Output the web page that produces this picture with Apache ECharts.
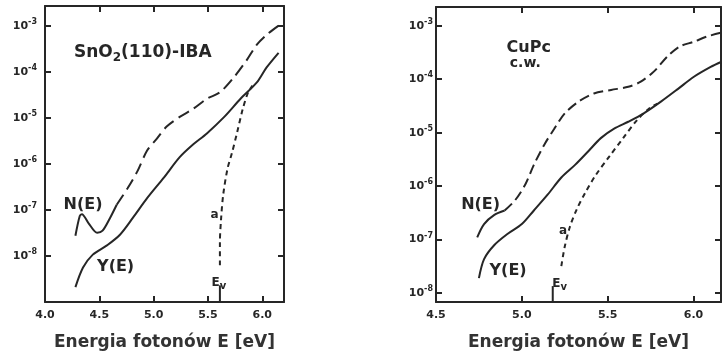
<!DOCTYPE html>
<html>
<head>
<meta charset="utf-8">
<script src="https://cdn.jsdelivr.net/npm/echarts@6/dist/echarts.min.js"></script>
<style>
html,body{margin:0;padding:0;background:#fff}
#main{width:724px;height:356px}
</style>
</head>
<body>
<div id="main"></div>
<script>
// lewy panel - SnO2(110)-IBA
const snoXTicks = ['4.0', '4.5', '5.0', '5.5', '6.0']
const snoYE = [[4.28,2.1e-9],[4.35,5.6e-9],[4.44,1.07e-8],[4.57,1.7e-8],[4.69,2.9e-8],[4.81,6.8e-8],[4.94,1.8e-7],
	[5.09,4.9e-7],[5.24,1.4e-6],[5.36,2.6e-6],[5.49,4.6e-6],[5.65,1.05e-5],[5.80,2.6e-5],[5.95,5.9e-5],[6.04,1.25e-4],[6.15,2.6e-4]]
// N(E) - poczatek ciagly, dalej przerywany
const snoNElow = [[4.28,2.75e-8],[4.32,7.4e-8],[4.34,8.1e-8],[4.40,5.2e-8],[4.48,3.2e-8],[4.53,3.55e-8],[4.60,6.8e-8],[4.66,1.3e-7]]
const snoNE = [[4.66,1.3e-7],[4.76,2.95e-7],[4.85,6.9e-7],[4.94,1.95e-6],[5.03,3.55e-6],[5.12,6.5e-6],[5.24,1.05e-5],
	[5.36,1.55e-5],[5.49,2.6e-5],[5.61,3.6e-5],[5.73,7.2e-5],[5.86,1.85e-4],[5.95,3.9e-4],[6.05,6.7e-4],[6.16,1.05e-3]]
const snoA = [[5.61,6.3e-9],[5.61,1.95e-8],[5.62,6.0e-8],[5.64,2.1e-7],[5.68,7.9e-7],[5.72,1.7e-6],[5.77,5.0e-6],
	[5.82,1.55e-5],[5.87,3.6e-5],[5.91,5.0e-5]]
const snoEv = [[5.61,1e-9],[5.61,2.3e-9]]

// prawy panel - CuPc c.w.
const cupcXTicks = ['4.5', '5.0', '5.5', '6.0']
const cupcYE = [[4.75,1.9e-8],[4.78,4.3e-8],[4.84,7.9e-8],[4.92,1.3e-7],[5.00,1.95e-7],[5.07,3.5e-7],[5.15,6.9e-7],
	[5.23,1.45e-6],[5.31,2.5e-6],[5.39,4.6e-6],[5.46,7.9e-6],[5.54,1.2e-5],[5.62,1.6e-5],[5.71,2.3e-5],[5.81,3.8e-5],
	[5.91,6.6e-5],[6.00,1.1e-4],[6.10,1.7e-4],[6.16,2.1e-4]]
const cupcNElow = [[4.74,1.1e-7],[4.78,1.95e-7],[4.84,2.9e-7],[4.90,3.5e-7]]
const cupcNE = [[4.90,3.5e-7],[4.96,5.4e-7],[5.02,1.07e-6],[5.07,2.5e-6],[5.13,5.9e-6],[5.19,1.2e-5],[5.25,2.3e-5],
	[5.33,3.8e-5],[5.42,5.4e-5],[5.52,6.3e-5],[5.62,7.2e-5],[5.69,8.9e-5],[5.77,1.4e-4],[5.85,2.7e-4],[5.92,4.1e-4],
	[6.00,5.0e-4],[6.08,6.3e-4],[6.16,7.4e-4]]
const cupcA = [[5.23,3.2e-8],[5.25,7.4e-8],[5.28,1.74e-7],[5.32,3.7e-7],[5.37,7.6e-7],[5.43,1.6e-6],[5.51,3.6e-6],
	[5.59,7.9e-6],[5.67,1.7e-5],[5.74,2.8e-5],[5.79,3.5e-5]]
const cupcEv = [[5.18,6.8e-9],[5.18,1.35e-8]]

// podpisy [x, y, tekst]
const snoNotes = [[4.90,2.6e-4,'{b|SnO}{s|2}{b|(110)-IBA}'],[4.35,1.3e-7,'{m|N(E)}'],[4.65,5.9e-9,'{m|Y(E)}'],
	[5.56,7.8e-8,'{a|a}'],[5.60,2.6e-9,'{a|E}{v|v}']]
const cupcNotes = [[5.04,3.9e-4,'{m|CuPc}'],[5.02,2.0e-4,'{c|c.w.}'],[4.76,4.4e-7,'{m|N(E)}'],[4.92,2.6e-8,'{m|Y(E)}'],
	[5.24,1.45e-7,'{a|a}'],[5.22,1.5e-8,'{a|E}{v|v}']]

const ink = '#262626'
const font = 'DejaVu Sans'

const yLabel = (v) => {
	const e = Math.log10(v)
	const r = Math.round(e)
	if (Math.abs(e - r) > 0.02 || r < -8 || r > -3) return ''
	return '{b|10}{s|' + r + '}'
}
const xLabel = (ticks) => (v) => {
	const t = v.toFixed(1)
	return ticks.indexOf(t) >= 0 && Math.abs(v - parseFloat(t)) < 1e-6 ? t : ''
}

const lineAxis = {show: true, lineStyle: {color: ink, width: 2}}
const tick = {show: true, inside: true, length: 6, lineStyle: {color: ink, width: 2}}
const yRich = {
	b: {fontFamily: font, fontSize: 11, fontWeight: 'bold', color: ink},
	s: {fontFamily: font, fontSize: 8, fontWeight: 'bold', color: ink, padding: [0, 0, 8, 0]}
}

const xAxis = (grid, min, max, ticks, pos) => ({
	type: 'value', gridIndex: grid, min: min, max: max, interval: 0.5, position: pos,
	axisLine: lineAxis, axisTick: tick, splitLine: {show: false},
	axisLabel: pos === 'bottom' ? {show: true, formatter: xLabel(ticks), fontFamily: font, fontSize: 11,
		fontWeight: 'bold', color: ink, margin: 8} : {show: false},
	name: pos === 'bottom' ? 'Energia fotonów E [eV]' : '', nameLocation: 'middle', nameGap: 32,
	nameTextStyle: {fontFamily: font, fontSize: 17, fontWeight: 'bold', color: '#333'}
})
const yAxis = (grid, min, max, pos, margin) => ({
	type: 'log', logBase: 10, gridIndex: grid, min: min, max: max, position: pos,
	axisLine: lineAxis, axisTick: tick, splitLine: {show: false}, minorTick: {show: false},
	axisLabel: pos === 'left' ? {show: true, formatter: yLabel, rich: yRich, margin: margin} : {show: false}
})

const curve = (data, xi, type, dash) => ({
	type: 'line', xAxisIndex: xi, yAxisIndex: xi, data: data, smooth: 0.3, symbol: 'none',
	lineStyle: {color: ink, width: 2, type: type === 'solid' ? 'solid' : dash}, z: 3
})
const notes = (data, xi) => ({
	type: 'scatter', xAxisIndex: xi, yAxisIndex: xi, data: data, symbolSize: 0, silent: true,
	itemStyle: {opacity: 1},
	label: {
		show: true, position: 'inside', formatter: (p) => p.value[2],
		color: ink, opacity: 1, textBorderWidth: 0,
		rich: {
			b: {fontFamily: font, fontSize: 17, fontWeight: 'bold', color: ink, textBorderWidth: 0},
			s: {fontFamily: font, fontSize: 12, fontWeight: 'bold', color: ink, textBorderWidth: 0, padding: [11, 0, 0, 0]},
			m: {fontFamily: font, fontSize: 16, fontWeight: 'bold', color: ink, textBorderWidth: 0},
			c: {fontFamily: font, fontSize: 14, fontWeight: 'bold', color: ink, textBorderWidth: 0},
			a: {fontFamily: font, fontSize: 12, fontWeight: 'bold', color: ink, textBorderWidth: 0},
			v: {fontFamily: font, fontSize: 10, fontWeight: 'bold', color: ink, textBorderWidth: 0, padding: [8, 0, 0, 0]}
		}
	}
})

const chart = echarts.init(document.getElementById('main'))
chart.setOption({
	animation: false,
	backgroundColor: '#fff',
	grid: [
		{left: 45, top: 6, width: 239, height: 300},
		{left: 436, top: 7, width: 286, height: 299}
	],
	xAxis: [
		xAxis(0, 4.0, 6.2, snoXTicks, 'bottom'),
		xAxis(0, 4.0, 6.2, snoXTicks, 'top'),
		xAxis(1, 4.5, 6.16, cupcXTicks, 'bottom'),
		xAxis(1, 4.5, 6.16, cupcXTicks, 'top')
	],
	yAxis: [
		yAxis(0, 1e-9, 2.7e-3, 'left', 8),
		yAxis(0, 1e-9, 2.7e-3, 'right', 8),
		yAxis(1, 6.8e-9, 2.24e-3, 'left', 3),
		yAxis(1, 6.8e-9, 2.24e-3, 'right', 3)
	],
	series: [
		curve(snoYE, 0, 'solid'),
		curve(snoNElow, 0, 'solid'),
		curve(snoNE, 0, 'dashed', [12, 6]),
		curve(snoA, 0, 'dashed', [5, 4]),
		curve(snoEv, 0, 'solid'),
		notes(snoNotes, 0),
		curve(cupcYE, 2, 'solid'),
		curve(cupcNElow, 2, 'solid'),
		curve(cupcNE, 2, 'dashed', [10, 5]),
		curve(cupcA, 2, 'dashed', [5, 4]),
		curve(cupcEv, 2, 'solid'),
		notes(cupcNotes, 2)
	]
})
</script>
</body>
</html>
